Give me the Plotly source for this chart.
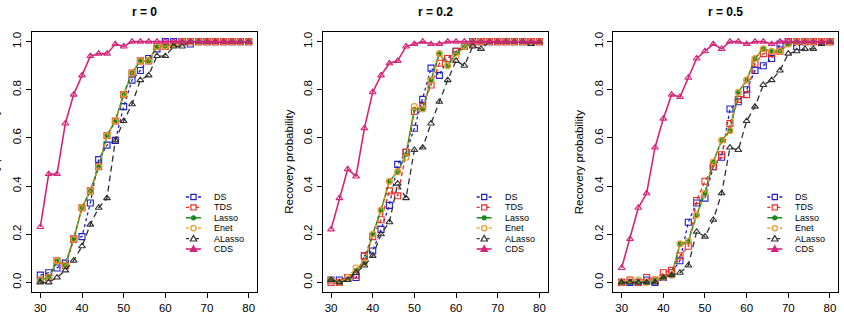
import plotly.graph_objects as go

# ---------------- data ----------------
n_vals = [30, 32, 34, 36, 38, 40, 42, 44, 46, 48, 50, 52, 54, 56, 58, 60,
          62, 64, 66, 68, 70, 72, 74, 76, 78, 80]
panel_titles = ["r = 0", "r = 0.2", "r = 0.5"]
method_names = ["DS", "TDS", "Lasso", "Enet", "ALasso", "CDS"]
y_ticks = [0.0, 0.2, 0.4, 0.6, 0.8, 1.0]
y_tick_text = ["0.0", "0.2", "0.4", "0.6", "0.8", "1.0"]
x_ticks = [30, 40, 50, 60, 70, 80]
y_label = "Recovery probability"

# r = 0
ds_r0 = [0.03, 0.04, 0.06, 0.08, 0.18, 0.19, 0.33, 0.51, 0.57, 0.59, 0.73, 0.84, 0.88,
         0.93, 0.97, 1.00, 1.00, 1.00, 0.99, 1.00, 1.00, 1.00, 1.00, 1.00, 1.00, 1.00]
tds_r0 = [0.01, 0.02, 0.09, 0.07, 0.18, 0.31, 0.38, 0.48, 0.61, 0.67, 0.78, 0.87, 0.92,
          0.92, 0.98, 0.98, 0.99, 1.00, 1.00, 1.00, 1.00, 1.00, 1.00, 1.00, 1.00, 1.00]
lasso_r0 = [0.01, 0.02, 0.09, 0.07, 0.18, 0.31, 0.38, 0.48, 0.61, 0.67, 0.78, 0.87, 0.92,
            0.92, 0.98, 0.98, 0.99, 1.00, 1.00, 1.00, 1.00, 1.00, 1.00, 1.00, 1.00, 1.00]
enet_r0 = [0.01, 0.02, 0.09, 0.07, 0.18, 0.31, 0.38, 0.48, 0.61, 0.67, 0.78, 0.87, 0.92,
           0.92, 0.98, 0.98, 0.99, 1.00, 1.00, 1.00, 1.00, 1.00, 1.00, 1.00, 1.00, 1.00]
alasso_r0 = [0.00, 0.00, 0.02, 0.05, 0.09, 0.15, 0.24, 0.31, 0.35, 0.59, 0.67, 0.74, 0.84,
             0.86, 0.94, 0.94, 0.98, 0.98, 1.00, 1.00, 1.00, 1.00, 1.00, 1.00, 1.00, 1.00]
cds_r0 = [0.23, 0.45, 0.45, 0.66, 0.78, 0.86, 0.94, 0.95, 0.95, 0.99, 0.98, 1.00, 1.00,
          1.00, 1.00, 1.00, 1.00, 1.00, 1.00, 1.00, 1.00, 1.00, 1.00, 1.00, 1.00, 1.00]

# r = 0.2
ds_r2 = [0.01, 0.01, 0.02, 0.02, 0.11, 0.13, 0.22, 0.32, 0.49, 0.54, 0.64, 0.76, 0.89,
         0.86, 0.93, 0.96, 0.98, 1.00, 1.00, 1.00, 1.00, 1.00, 1.00, 1.00, 1.00, 1.00]
tds_r2 = [0.00, 0.00, 0.02, 0.03, 0.11, 0.19, 0.26, 0.38, 0.36, 0.54, 0.71, 0.73, 0.82,
          0.91, 0.93, 0.96, 0.98, 0.99, 1.00, 1.00, 1.00, 1.00, 1.00, 1.00, 1.00, 1.00]
lasso_r2 = [0.01, 0.00, 0.01, 0.05, 0.08, 0.20, 0.30, 0.42, 0.46, 0.53, 0.72, 0.72, 0.84,
            0.95, 0.90, 0.95, 0.98, 1.00, 1.00, 1.00, 1.00, 1.00, 1.00, 1.00, 1.00, 1.00]
enet_r2 = [0.01, 0.00, 0.02, 0.06, 0.08, 0.20, 0.30, 0.42, 0.46, 0.52, 0.73, 0.72, 0.84,
           0.95, 0.90, 0.94, 0.98, 1.00, 1.00, 1.00, 1.00, 1.00, 1.00, 1.00, 1.00, 1.00]
alasso_r2 = [0.01, 0.00, 0.01, 0.04, 0.07, 0.11, 0.20, 0.25, 0.41, 0.35, 0.55, 0.56, 0.66,
             0.75, 0.84, 0.92, 0.90, 0.98, 0.97, 1.00, 1.00, 1.00, 1.00, 1.00, 0.99, 1.00]
cds_r2 = [0.22, 0.35, 0.47, 0.44, 0.64, 0.79, 0.86, 0.91, 0.92, 0.98, 0.99, 1.00, 0.99,
          0.99, 1.00, 1.00, 1.00, 1.00, 1.00, 1.00, 1.00, 1.00, 1.00, 1.00, 1.00, 1.00]

# r = 0.5
ds_r5 = [0.00, 0.00, 0.00, 0.01, 0.00, 0.02, 0.04, 0.09, 0.25, 0.33, 0.35, 0.48, 0.52,
         0.72, 0.75, 0.80, 0.88, 0.90, 0.93, 0.99, 1.00, 0.98, 1.00, 1.00, 1.00, 1.00]
tds_r5 = [0.00, 0.01, 0.00, 0.02, 0.01, 0.04, 0.05, 0.11, 0.15, 0.34, 0.42, 0.48, 0.53,
          0.66, 0.76, 0.78, 0.91, 0.95, 0.95, 0.96, 1.00, 1.00, 1.00, 1.00, 1.00, 1.00]
lasso_r5 = [0.00, 0.00, 0.00, 0.00, 0.01, 0.02, 0.03, 0.16, 0.17, 0.28, 0.37, 0.50, 0.59,
            0.63, 0.79, 0.84, 0.93, 0.97, 0.96, 0.96, 0.99, 1.00, 1.00, 1.00, 1.00, 1.00]
enet_r5 = [0.00, 0.01, 0.01, 0.00, 0.01, 0.02, 0.03, 0.16, 0.17, 0.28, 0.37, 0.50, 0.59,
           0.63, 0.79, 0.84, 0.93, 0.97, 0.96, 0.96, 0.99, 1.00, 1.00, 1.00, 1.00, 1.00]
alasso_r5 = [0.00, 0.00, 0.00, 0.00, 0.00, 0.02, 0.03, 0.04, 0.07, 0.21, 0.19, 0.26, 0.37,
             0.56, 0.55, 0.67, 0.73, 0.82, 0.84, 0.88, 0.95, 0.96, 0.97, 0.97, 0.99, 1.00]
cds_r5 = [0.06, 0.18, 0.31, 0.37, 0.56, 0.68, 0.78, 0.77, 0.85, 0.93, 0.96, 0.99, 0.97,
          1.00, 1.00, 0.99, 1.00, 1.00, 0.99, 1.00, 1.00, 1.00, 1.00, 1.00, 1.00, 1.00]

panel_data = [
    [ds_r0, tds_r0, lasso_r0, enet_r0, alasso_r0, cds_r0],
    [ds_r2, tds_r2, lasso_r2, enet_r2, alasso_r2, cds_r2],
    [ds_r5, tds_r5, lasso_r5, enet_r5, alasso_r5, cds_r5],
]

# ---------------- styles ----------------
W, H = 844, 322
FONT = "Liberation Sans, Arial, Helvetica, sans-serif"
styles = {
    "DS":     dict(color="#1f1fc8", dash="dot",       symbol="square-open",      size=6, width=1.3, leg="square", fill=False),
    "TDS":    dict(color="#ee2a22", dash="4px,3px",   symbol="square-open",      size=6, width=1.3, leg="square", fill=False),
    "Lasso":  dict(color="#1c8a1c", dash="solid",     symbol="circle",           size=3.5, width=1.5, leg="circle", fill=True),
    "Enet":   dict(color="#e6992a", dash="dot",       symbol="circle-open",      size=6, width=1.3, leg="circle", fill=False),
    "ALasso": dict(color="#303030", dash="6px,4px",   symbol="triangle-up-open", size=6, width=1.3, leg="tri", fill=False),
    "CDS":    dict(color="#d42479", dash="solid",     symbol="triangle-up-open", size=6, width=1.6, leg="tri", fill=True),
}

# panel boxes in pixels
box_left = [32.0, 322.7, 613.3]
box_w = 225.0
box_top, box_bot = 32.0, 292.0
label_offset = [37.5, 34.0, 34.0]

def px(x):
    return x / W

def py(y):
    return 1 - y / H

fig = go.Figure()
for p in range(3):
    ax = "" if p == 0 else str(p + 1)
    for k, name in enumerate(method_names):
        st = styles[name]
        fig.add_trace(go.Scatter(
            x=n_vals, y=panel_data[p][k], mode="lines+markers", name=name,
            xaxis="x" + ax, yaxis="y" + ax, showlegend=False,
            line=dict(color=st["color"], dash=st["dash"], width=st["width"]),
            marker=dict(symbol=st["symbol"], size=st["size"], color=st["color"],
                        line=dict(width=1.1, color=st["color"])),
        ))

layout = dict(
    width=W, height=H, margin=dict(l=0, r=0, t=0, b=0),
    paper_bgcolor="white", plot_bgcolor="white", showlegend=False,
    font=dict(family=FONT, size=11, color="black"),
)
axis_common = dict(showline=True, mirror=True, linecolor="black", linewidth=1,
                   ticks="outside", ticklen=5, tickwidth=1, tickcolor="black",
                   showgrid=False, zeroline=False,
                   tickfont=dict(family=FONT, size=11.5, color="black"))
annotations = []
shapes = []
for p in range(3):
    ax = "" if p == 0 else str(p + 1)
    l = box_left[p]
    r = l + box_w
    layout["xaxis" + ax] = dict(axis_common, domain=[px(l), px(r)], range=[28, 82],
                                tickvals=x_ticks, anchor="y" + ax)
    layout["yaxis" + ax] = dict(axis_common, domain=[py(box_bot), py(box_top)],
                                range=[-0.04, 1.04], tickvals=y_ticks, ticktext=y_tick_text,
                                tickangle=-90, anchor="x" + ax)
    # title
    annotations.append(dict(text="<b>%s</b>" % panel_titles[p], x=px((l + r) / 2), y=py(12),
                            xref="paper", yref="paper", showarrow=False,
                            xanchor="center", yanchor="middle",
                            font=dict(family=FONT, size=12, color="black")))
    # y-axis label
    annotations.append(dict(text=y_label, x=px(l - label_offset[p]), y=py((box_top + box_bot) / 2),
                            xref="paper", yref="paper", showarrow=False, textangle=-90,
                            xanchor="center", yanchor="middle",
                            font=dict(family=FONT, size=11.5, color="black")))
    # legend (drawn by hand to match R's compact legend)
    tx = r - 45
    for k, name in enumerate(method_names):
        st = styles[name]
        yy = 197 + 10.4 * k
        shapes.append(dict(type="line", xref="paper", yref="paper",
                           x0=px(tx - 26), x1=px(tx - 11), y0=py(yy), y1=py(yy),
                           line=dict(color=st["color"], width=st["width"],
                                     dash=st["dash"] if st["dash"] in ("dot", "solid") else "3px,2px")))
        cx = tx - 18.5
        s = 2.6
        fill = st["color"] if st["fill"] else "white"
        if st["leg"] == "square":
            shapes.append(dict(type="rect", xref="paper", yref="paper",
                               x0=px(cx - s), x1=px(cx + s), y0=py(yy + s), y1=py(yy - s),
                               line=dict(color=st["color"], width=1.2), fillcolor="white"))
        elif st["leg"] == "circle":
            rr = 2.0 if st["fill"] else 2.6
            shapes.append(dict(type="circle", xref="paper", yref="paper",
                               x0=px(cx - rr), x1=px(cx + rr), y0=py(yy + rr), y1=py(yy - rr),
                               line=dict(color=st["color"], width=1.2), fillcolor=fill))
        else:
            path = "M %f %f L %f %f L %f %f Z" % (px(cx - 3.2), py(yy + 2.4), px(cx + 3.2), py(yy + 2.4),
                                                   px(cx), py(yy - 3.2))
            shapes.append(dict(type="path", xref="paper", yref="paper", path=path,
                               line=dict(color=st["color"], width=1.2), fillcolor=fill))
        annotations.append(dict(text=name, x=px(tx), y=py(yy), xref="paper", yref="paper",
                                showarrow=False, xanchor="left", yanchor="middle",
                                font=dict(family=FONT, size=9, color="black")))

layout["annotations"] = annotations
layout["shapes"] = shapes
fig.update_layout(**layout)
fig.write_html("out.html")
